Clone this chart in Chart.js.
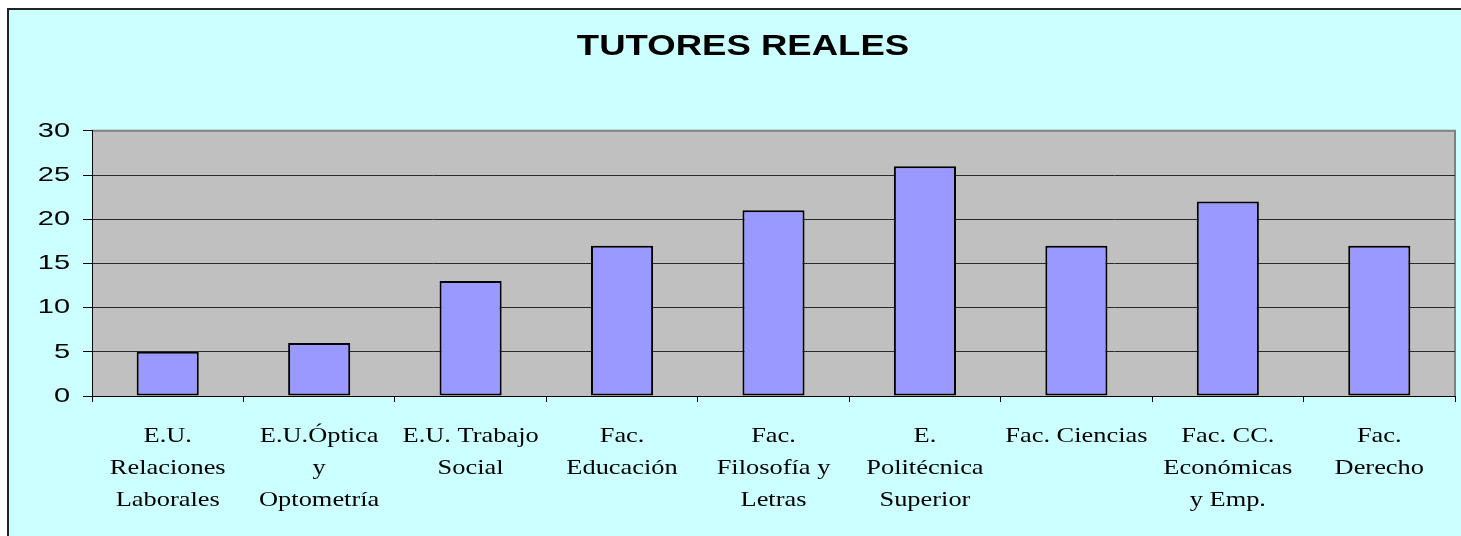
<!DOCTYPE html>
<html>
<head>
<meta charset="utf-8">
<script src="https://cdn.jsdelivr.net/npm/chart.js@4.4.1/dist/chart.umd.min.js"></script>
<style>
  html, body { margin: 0; padding: 0; background: #ffffff; }
  canvas { display: block; }
</style>
</head>
<body>
<canvas id="c" width="1461" height="536"></canvas>
<script>
const chartTitle = "TUTORES REALES";
const categories = [
  ["E.U.", "Relaciones", "Laborales"],
  ["E.U.Óptica", "y", "Optometría"],
  ["E.U. Trabajo", "Social"],
  ["Fac.", "Educación"],
  ["Fac.", "Filosofía y", "Letras"],
  ["E.", "Politécnica", "Superior"],
  ["Fac. Ciencias"],
  ["Fac. CC.", "Económicas", "y Emp."],
  ["Fac.", "Derecho"]
];
const tutores = [5, 6, 13, 17, 21, 26, 17, 22, 17];
const yMin = 0, yMax = 30, yStep = 5;

const backgroundPlugin = {
  id: 'bgPlugin',
  beforeDraw(chart) {
    const ctx = chart.ctx;
    const a = chart.chartArea;
    ctx.save();
    ctx.fillStyle = '#ffffff';
    ctx.fillRect(0, 0, chart.width, chart.height);
    ctx.fillStyle = '#CCFFFF';
    ctx.fillRect(8, 9, chart.width, chart.height);
    ctx.strokeStyle = '#222222';
    ctx.lineWidth = 2;
    ctx.strokeRect(8, 9, chart.width + 10, chart.height + 10);
    ctx.fillStyle = '#C0C0C0';
    ctx.fillRect(a.left, a.top, a.right - a.left, a.bottom - a.top);
    ctx.strokeStyle = '#808080';
    ctx.lineWidth = 2;
    ctx.beginPath();
    ctx.moveTo(a.left, a.top);
    ctx.lineTo(a.right, a.top);
    ctx.lineTo(a.right, a.bottom);
    ctx.stroke();
    ctx.restore();
  }
};

// Draw text of a chart element horizontally widened around its own anchor point
function wrapWide(obj, method, sx, dx) {
  if (!obj || obj['_wide_' + method]) return;
  const orig = obj[method];
  obj[method] = function(...args) {
    const c = obj.ctx;
    const proto = CanvasRenderingContext2D.prototype.fillText;
    c.fillText = function(t, x, y, m) {
      this.save();
      this.translate(x + dx, y);
      this.scale(sx, 1);
      if (m === undefined) proto.call(this, t, 0, 0);
      else proto.call(this, t, 0, 0, m / sx);
      this.restore();
    };
    try {
      return orig.apply(this, args);
    } finally {
      delete c.fillText;
    }
  };
  obj['_wide_' + method] = true;
}

const widePlugin = {
  id: 'widePlugin',
  beforeDraw(chart) {
    wrapWide(chart.scales.x, 'drawLabels', 1.2, 0);
    wrapWide(chart.scales.y, 'drawLabels', 1.38, 0);
    wrapWide(chart.titleBlock, 'draw', 1.26, 15.5);
  }
};

new Chart(document.getElementById('c'), {
  type: 'bar',
  data: {
    labels: categories,
    datasets: [{
      label: chartTitle,
      data: tutores,
      backgroundColor: '#9999FF',
      borderColor: '#000000',
      borderWidth: 2,
      borderSkipped: false,
      barPercentage: 0.41,
      categoryPercentage: 1.0
    }]
  },
  options: {
    responsive: false,
    animation: false,
    layout: { padding: { left: 0, right: 6, top: 0, bottom: 0 } },
    plugins: {
      legend: { display: false },
      tooltip: { enabled: false },
      title: {
        display: true,
        text: chartTitle,
        color: '#000000',
        font: { family: 'Arial, "Liberation Sans", sans-serif', size: 29, weight: 'bold', lineHeight: 1.2 },
        padding: { top: 30, bottom: 66 }
      }
    },
    scales: {
      x: {
        offset: true,
        afterFit(scale) { scale.height = 140; },
        grid: { display: true, drawOnChartArea: false, offset: true, tickLength: 6, color: '#000000', tickColor: '#000000' },
        border: { display: true, color: '#000000', width: 1 },
        ticks: {
          autoSkip: false, maxRotation: 0, minRotation: 0,
          color: '#000000', padding: 18,
          font: { family: '"Liberation Serif", "Times New Roman", serif', size: 22, lineHeight: 1.4545 }
        }
      },
      y: {
        min: yMin, max: yMax,
        afterFit(scale) { scale.width = 92; },
        grid: {
          color: (c) => (c.tick && c.tick.value === yMax) ? '#808080' : '#2a2a2a',
          tickColor: '#000000',
          tickLength: 9,
          lineWidth: 1
        },
        border: { display: true, color: '#000000', width: 1 },
        ticks: {
          stepSize: yStep,
          color: '#000000',
          padding: 13,
          font: { family: 'Arial, "Liberation Sans", sans-serif', size: 21 }
        }
      }
    }
  },
  plugins: [backgroundPlugin, widePlugin]
});
</script>
</body>
</html>
